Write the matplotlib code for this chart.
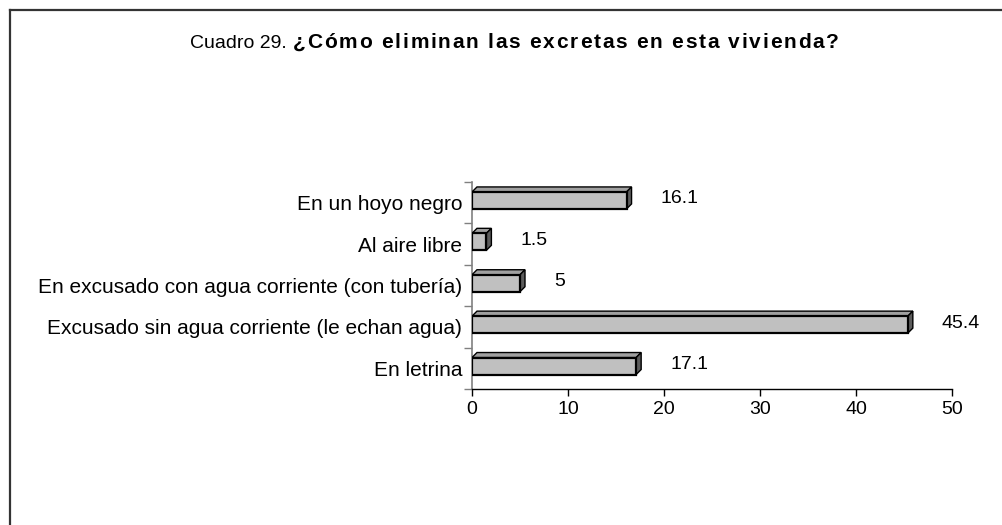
import matplotlib
matplotlib.use("Agg")
import matplotlib.pyplot as plt
from matplotlib.patches import Polygon
from matplotlib.lines import Line2D
import numpy as np

# ---- data (bottom to top) ----
categories = [
    "En letrina",
    "Excusado sin agua corriente (le echan agua)",
    "En excusado con agua corriente (con tubería)",
    "Al aire libre",
    "En un hoyo negro",
]
values = [17.1, 45.4, 5, 1.5, 16.1]
value_labels = ["17.1", "45.4", "5", "1.5", "16.1"]
x_ticks = [0, 10, 20, 30, 40, 50]
title_normal = "Cuadro 29. "
title_bold = "¿Cómo eliminan las excretas en esta vivienda?"

plt.rcParams['font.family'] = ['Liberation Sans', 'DejaVu Sans']

W, H = 1003, 525
fig = plt.figure(figsize=(W / 100, H / 100), dpi=100)
fig.patch.set_facecolor("white")

ax_l, ax_r, ax_t, ax_b = 472, 952, 182, 389
ax = fig.add_axes([ax_l / W, 1 - ax_b / H, (ax_r - ax_l) / W, (ax_b - ax_t) / H])
ax.set_xlim(0, 50)
ax.set_ylim(-0.5, len(categories) - 0.5)

px_x = (ax_r - ax_l) / 50.0
px_y = (ax_b - ax_t) / len(categories)
dep = 5.0
dx = dep / px_x
dy = dep / px_y
lo = 0.15
hi = 0.26

front_c = "#c0c0c0"
top_c = "#a0a0a0"
side_c = "#5c5c5c"

ypos = np.arange(len(categories))
for y, v in zip(ypos, values):
    y0, y1 = y - lo, y + hi
    ax.add_patch(Polygon([(0, y1), (v, y1), (v + dx, y1 + dy), (0 + dx, y1 + dy)],
                         closed=True, facecolor=top_c, edgecolor="black", lw=1.0, zorder=3))
    ax.add_patch(Polygon([(v, y0), (v + dx, y0 + dy), (v + dx, y1 + dy), (v, y1)],
                         closed=True, facecolor=side_c, edgecolor="black", lw=1.0, zorder=3))
    ax.add_patch(Polygon([(0, y0), (v, y0), (v, y1), (0, y1)],
                         closed=True, facecolor=front_c, edgecolor="black", lw=1.6, zorder=4))

for y, v, lab in zip(ypos, values, value_labels):
    ax.annotate(lab, xy=(v, y + 0.09), xytext=(34, 0), textcoords="offset pixels",
                ha="left", va="center", fontsize=14, color="black", zorder=5)

for s in ("top", "right"):
    ax.spines[s].set_visible(False)
ax.spines["left"].set_color("#808080")
ax.spines["left"].set_linewidth(1.2)
ax.spines["bottom"].set_color("black")
ax.spines["bottom"].set_linewidth(1.0)

ax.set_xticks(x_ticks)
ax.set_xticklabels([str(t) for t in x_ticks], fontsize=14)
ax.tick_params(axis="x", direction="out", length=5, width=1, color="black", pad=4)

ax.set_yticks(ypos)
ax.set_yticklabels(categories, fontsize=15)
ax.tick_params(axis="y", which="major", length=0, pad=7)
ax.set_yticks(np.arange(-0.5, len(categories), 1.0), minor=True)
ax.tick_params(axis="y", which="minor", direction="out", length=6, width=1, color="#808080")

# title (normal + letter-spaced bold), all on a common baseline
renderer = fig.canvas.get_renderer()
ty = 1 - 48 / H
t1 = fig.text(190 / W, ty, title_normal, fontsize=14, ha="left", va="baseline")
bb = t1.get_window_extent(renderer)
x0 = bb.x1 + 1
track = 1.75
bfs = 15
def _w(s):
    t = fig.text(0, 0, s + "|", fontsize=bfs, fontweight="bold")
    w = t.get_window_extent(renderer).width
    t.remove()
    return w
bar_w = _w("")
for i, ch in enumerate(title_bold):
    if ch == " ":
        continue
    xi = x0 + (_w(title_bold[:i]) - bar_w) + i * track
    fig.text(xi / W, ty, ch, fontsize=bfs, fontweight="bold", ha="left", va="baseline")

# outer border (left and top visible)
fig.add_artist(Line2D([10 / W, 10 / W], [0, 1 - 10 / H], transform=fig.transFigure,
                      color="#333333", lw=1.6))
fig.add_artist(Line2D([10 / W, 1], [1 - 10 / H, 1 - 10 / H], transform=fig.transFigure,
                      color="#333333", lw=1.6))

fig.savefig("out.png", dpi=100)
